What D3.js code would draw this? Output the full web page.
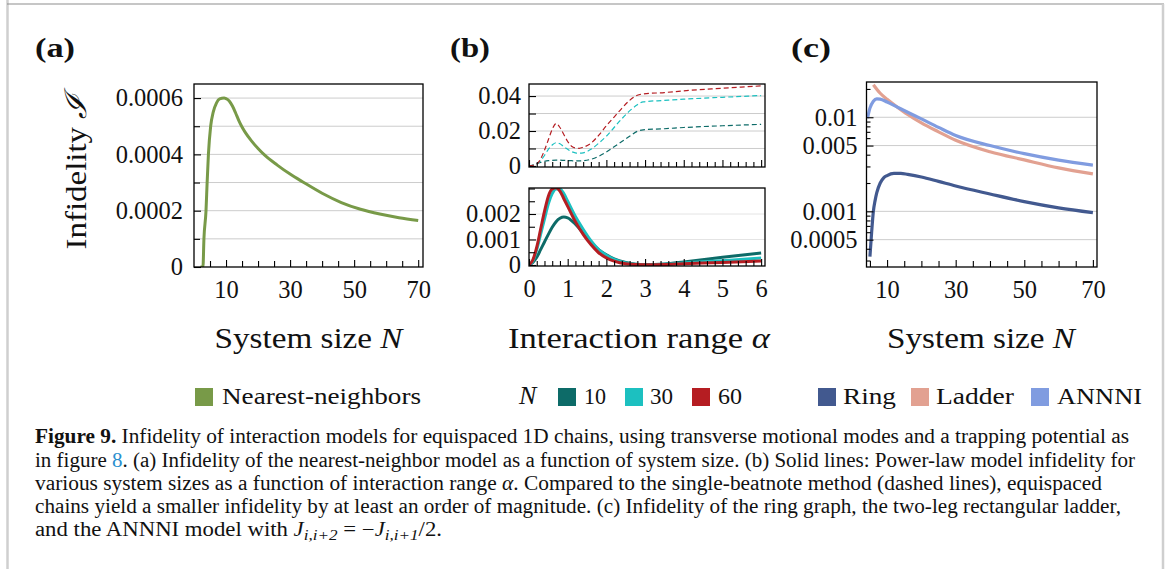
<!DOCTYPE html>
<html><head><meta charset="utf-8">
<script src="https://cdn.jsdelivr.net/npm/d3@7"></script>
<style>
body{margin:0;background:#fff}
svg{display:block}
text{font-family:"Liberation Serif","Times New Roman",serif;fill:#111}
</style>
</head><body>
<svg id="c" width="1167" height="569"></svg>
<script>
// ---------------- DATA ----------------
// Panel (a): nearest-neighbour infidelity vs system size N
const aN   = [2, 2.8, 3.1, 3.75, 4.1, 4.5, 5.2, 6, 7, 8, 9.4, 10, 11, 12, 13, 14, 15, 16, 18, 20, 22, 26, 30, 34, 40, 46, 52, 58, 64, 70];
const aInf = [0, 0, 0.0001, 0.0002, 0.0003, 0.0004, 0.0005, 0.00055, 0.000582, 0.000597, 0.0006, 0.000598, 0.00059, 0.000572, 0.000547, 0.00052, 0.000497, 0.000478, 0.000447, 0.000421, 0.000398, 0.000362, 0.00033, 0.000302, 0.000262, 0.000229, 0.000205, 0.000188, 0.000175, 0.000165];
const aYTicks  = [0, 0.0002, 0.0004, 0.0006];
const aYLabels = ["0", "0.0002", "0.0004", "0.0006"];
const aYMinor  = [0.0001, 0.0003, 0.0005];
const aXTicks  = [10, 30, 50, 70];
const aXMinor  = [5, 15, 20, 25, 35, 40, 45, 55, 60, 65];

// Panel (b) top: single-beatnote (dashed) infidelity vs alpha
const bAlphaD = [0, 0.1, 0.2, 0.3, 0.4, 0.5, 0.6, 0.7, 0.8, 0.9, 1.0, 1.1, 1.2, 1.3, 1.4, 1.6, 1.8, 2.0, 2.2, 2.4, 2.6, 2.8, 2.95, 3.5, 4, 5, 6];
const bDashN10 = [0, 0.0005, 0.0013, 0.002, 0.0026, 0.003, 0.0032, 0.0033, 0.0033, 0.0032, 0.0031, 0.003, 0.0029, 0.0029, 0.003, 0.0038, 0.0055, 0.008, 0.011, 0.014, 0.017, 0.0198, 0.0207, 0.0213, 0.022, 0.023, 0.0238];
const bDashN30 = [0, 0.0003, 0.001, 0.003, 0.006, 0.0095, 0.012, 0.0133, 0.0127, 0.011, 0.0095, 0.0082, 0.0075, 0.0073, 0.0075, 0.0095, 0.013, 0.017, 0.022, 0.027, 0.0315, 0.035, 0.0367, 0.0375, 0.0382, 0.0393, 0.0403];
const bDashN60 = [0, 0.0003, 0.001, 0.004, 0.009, 0.015, 0.021, 0.0243, 0.022, 0.018, 0.014, 0.0113, 0.0103, 0.0101, 0.0107, 0.013, 0.0175, 0.023, 0.028, 0.033, 0.0375, 0.0405, 0.0412, 0.042, 0.043, 0.0445, 0.0458];
const bTopYTicks  = [0, 0.02, 0.04];
const bTopYLabels = ["0", "0.02", "0.04"];
const bTopYMinor  = [0.01, 0.03];

// Panel (b) bottom: equispaced power-law (solid) infidelity vs alpha
const bAlphaS = [0, 0.1, 0.2, 0.3, 0.4, 0.5, 0.6, 0.7, 0.8, 0.9, 1.0, 1.2, 1.4, 1.6, 1.8, 2.0, 2.2, 2.5, 3, 3.5, 4, 5, 6];
const bSolN10 = [0, 0.0001, 0.0003, 0.0006, 0.0009, 0.0012, 0.00148, 0.0017, 0.00183, 0.00188, 0.00185, 0.0016, 0.00125, 0.0009, 0.0006, 0.0004, 0.00024, 0.0001, 0.00001, 0.00004, 0.00012, 0.0003, 0.00047];
const bSolN30 = [0, 0.00015, 0.0006, 0.0012, 0.0018, 0.0024, 0.0028, 0.00298, 0.00298, 0.0028, 0.0025, 0.0019, 0.0014, 0.00095, 0.0006, 0.00038, 0.00022, 0.00008, 0.00001, 0.00003, 0.00008, 0.00017, 0.00027];
const bSolN60 = [0, 0.0002, 0.0007, 0.0014, 0.0021, 0.0027, 0.00298, 0.00303, 0.0029, 0.0026, 0.0023, 0.0017, 0.0012, 0.0008, 0.00048, 0.00028, 0.00015, 0.00005, 0.00001, 0.00002, 0.00005, 0.0001, 0.00016];
const bBotYTicks  = [0, 0.001, 0.002];
const bBotYLabels = ["0", "0.001", "0.002"];
const bBotYMinor  = [0.0005, 0.0015, 0.0025, 0.003];
const bXTicks = [0, 1, 2, 3, 4, 5, 6];
const bXMinor = d3.range(0, 30).map(i => +(i * 0.2).toFixed(1)).filter(v => Math.abs(v - Math.round(v)) > 1e-9);
const bSizes = ["10", "30", "60"];

// Panel (c): ring / ladder / ANNNI infidelity vs N (log scale)
const cRingN  = [5, 5.5, 6, 6.5, 7, 8, 9, 10, 12, 14, 16, 20, 25, 30, 40, 50, 60, 70];
const cRing   = [0.00033, 0.0006, 0.001, 0.0013, 0.00158, 0.002, 0.00227, 0.0024, 0.00253, 0.00253, 0.00247, 0.00232, 0.00208, 0.00186, 0.00153, 0.00127, 0.00109, 0.00097];
const cLadN   = [6, 8, 10, 13, 16, 20, 25, 30, 40, 50, 60, 70];
const cLadder = [0.0222, 0.018, 0.0155, 0.0128, 0.0107, 0.0087, 0.007, 0.0057, 0.0043, 0.00352, 0.0029, 0.0025];
const cAnnN   = [4.3, 5, 6, 7, 8, 10, 13, 16, 20, 25, 30, 40, 50, 60, 70];
const cAnnni  = [0.0098, 0.0125, 0.0148, 0.0157, 0.0156, 0.0145, 0.0128, 0.0113, 0.0096, 0.0078, 0.0064, 0.005, 0.0041, 0.0035, 0.0031];
const cYTicks  = [0.0005, 0.001, 0.005, 0.01];
const cYLabels = ["0.0005", "0.001", "0.005", "0.01"];
const cYMinor  = [0.0003, 0.0004, 0.0006, 0.0007, 0.0008, 0.0009, 0.002, 0.003, 0.004, 0.006, 0.007, 0.008, 0.009, 0.02];
const cXTicks  = [10, 30, 50, 70];
const cXMinor  = [5, 15, 20, 25, 35, 40, 45, 55, 60, 65];

// Colours
const colGreen = "#789a48";
const colN = ["#0d6b68", "#1cc0c0", "#b51d22"];
const colRing = "#42598f", colLadder = "#e2a191", colAnnni = "#809ce0";

// ---------------- DRAW ----------------
const svg = d3.select("#c");

// page frame
svg.append("line").attr("x1", 7.5).attr("x2", 7.5).attr("y1", 0).attr("y2", 569).attr("stroke", "#cfcfcf").attr("stroke-width", 2.5);
svg.append("line").attr("x1", 7).attr("x2", 1164).attr("y1", 4).attr("y2", 4).attr("stroke", "#8e8e8e").attr("stroke-width", 1.2);
svg.append("line").attr("x1", 1163).attr("x2", 1163).attr("y1", 4).attr("y2", 569).attr("stroke", "#cfcfcf").attr("stroke-width", 2.5);

let clipId = 0;
function panel(o) {
  const [x0, x1, y0, y1] = o.box;
  const g = svg.append("g");
  // grid
  g.selectAll(null).data(o.grid).enter().append("line")
    .attr("x1", x0).attr("x2", x1)
    .attr("y1", d => o.y(d)).attr("y2", d => o.y(d))
    .attr("stroke", o.gridColor).attr("stroke-width", 1);
  // clip
  const id = "clip" + (clipId++);
  svg.append("clipPath").attr("id", id).append("rect")
    .attr("x", x0).attr("y", y0).attr("width", x1 - x0).attr("height", y1 - y0);
  const cg = g.append("g").attr("clip-path", `url(#${id})`);
  o.series.forEach(s => {
    const line = d3.line().x(d => o.x(d[0])).y(d => o.y(d[1])).curve(d3.curveMonotoneX);
    const pts = s.xs.map((v, i) => [v, s.ys[i]]);
    cg.append("path").attr("d", line(pts)).attr("fill", "none")
      .attr("stroke", s.color).attr("stroke-width", s.width)
      .attr("stroke-dasharray", s.dash || null)
      .attr("stroke-linejoin", "round").attr("stroke-linecap", "butt");
  });
  // y axis
  const ay = g.append("g").attr("transform", `translate(${x0},0)`)
    .call(d3.axisLeft(o.y).tickValues(o.yMinor).tickSizeInner(-(o.minorLen || 5)).tickSizeOuter(0).tickFormat(""));
  const ay2 = g.append("g").attr("transform", `translate(${x0},0)`)
    .call(d3.axisLeft(o.y).tickValues(o.yTicks).tickSizeInner(-7).tickSizeOuter(0).tickPadding(o.yPad)
      .tickFormat((d, i) => o.yLabels[i]));
  // x axis
  const ax = g.append("g").attr("transform", `translate(0,${y1})`)
    .call(d3.axisBottom(o.x).tickValues(o.xMinor).tickSizeInner(-(o.xMinorLen || 5)).tickSizeOuter(0).tickFormat(""));
  const ax2 = g.append("g").attr("transform", `translate(0,${y1})`)
    .call(d3.axisBottom(o.x).tickValues(o.xTicks).tickSizeInner(-7).tickSizeOuter(0).tickPadding(14)
      .tickFormat(o.xLabels ? (d => d) : ""));
  [ay, ay2, ax, ax2].forEach(a => {
    a.select(".domain").remove();
    a.selectAll(".tick line").attr("stroke", "#000").attr("stroke-width", 1.1);
    a.selectAll("text").attr("font-size", 24.5).attr("fill", "#111");
  });
  // box
  g.append("rect").attr("x", x0).attr("y", y0).attr("width", x1 - x0).attr("height", y1 - y0)
    .attr("fill", "none").attr("stroke", "#000").attr("stroke-width", 1.3);
}

// Panel (a)
const xa = d3.scaleLinear().domain([0, 71.5]).range([194, 423]);
const ya = d3.scaleLinear().domain([0, 0.00065]).range([267, 84]);
panel({
  box: [194, 423, 84, 267], x: xa, y: ya,
  grid: [0.0001, 0.0002, 0.0003, 0.0004, 0.0005, 0.0006], gridColor: "#cccccc",
  yTicks: aYTicks, yLabels: aYLabels, yMinor: aYMinor, minorLen: 6, yPad: 11,
  xTicks: aXTicks, xLabels: true, xMinor: aXMinor, xMinorLen: 6,
  series: [{ xs: aN, ys: aInf, color: colGreen, width: 3 }]
});

// Panel (b) top
const xb = d3.scaleLinear().domain([0, 6.1]).range([529, 765]);
const ybt = d3.scaleLinear().domain([-0.0006, 0.0469]).range([167, 84]);
panel({
  box: [529, 765, 84, 167], x: xb, y: ybt,
  grid: [0.01, 0.02, 0.03, 0.04], gridColor: "#cccccc",
  yTicks: bTopYTicks, yLabels: bTopYLabels, yMinor: bTopYMinor, minorLen: 7, yPad: 8,
  xTicks: bXTicks, xLabels: false, xMinor: bXMinor, xMinorLen: 5,
  series: [
    { xs: bAlphaD, ys: bDashN10, color: colN[0], width: 1.2, dash: "5,3" },
    { xs: bAlphaD, ys: bDashN30, color: colN[1], width: 1.2, dash: "5,3" },
    { xs: bAlphaD, ys: bDashN60, color: colN[2], width: 1.2, dash: "5,3" }
  ]
});

// Panel (b) bottom
const ybb = d3.scaleLinear().domain([-0.00004, 0.00302]).range([266, 188]);
panel({
  box: [529, 765, 188, 266], x: xb, y: ybb,
  grid: [0.001, 0.002], gridColor: "#e4e4e4",
  yTicks: bBotYTicks, yLabels: bBotYLabels, yMinor: bBotYMinor, minorLen: 6, yPad: 8,
  xTicks: bXTicks, xLabels: true, xMinor: bXMinor, xMinorLen: 5,
  series: [
    { xs: bAlphaS, ys: bSolN10, color: colN[0], width: 3 },
    { xs: bAlphaS, ys: bSolN30, color: colN[1], width: 3 },
    { xs: bAlphaS, ys: bSolN60, color: colN[2], width: 3 }
  ]
});

// Panel (c)
const xc = d3.scaleLinear().domain([4, 71.2]).range([866.5, 1097]);
const yc = d3.scaleLog().domain([0.000256, 0.0237]).range([267, 82]);
panel({
  box: [866.5, 1097, 82, 267], x: xc, y: yc,
  grid: [0.0005, 0.001, 0.005, 0.01], gridColor: "#cccccc",
  yTicks: cYTicks, yLabels: cYLabels, yMinor: cYMinor, minorLen: 4, yPad: 9,
  xTicks: cXTicks, xLabels: true, xMinor: cXMinor, xMinorLen: 6,
  series: [
    { xs: cRingN, ys: cRing, color: colRing, width: 3.2 },
    { xs: cLadN, ys: cLadder, color: colLadder, width: 3.2 },
    { xs: cAnnN, ys: cAnnni, color: colAnnni, width: 3.2 }
  ]
});

// Panel letters
[["(a)", 35], ["(b)", 450], ["(c)", 791]].forEach(([t, x]) => {
  svg.append("text").attr("x", x).attr("y", 57).attr("font-size", 28).attr("font-weight", "bold")
    .attr("textLength", 40).attr("lengthAdjust", "spacingAndGlyphs").text(t);
});

// Y axis title
const yt = svg.append("text").attr("transform", "translate(86,172) rotate(-90)")
  .attr("text-anchor", "middle").attr("font-size", 30)
  .attr("textLength", 155).attr("lengthAdjust", "spacingAndGlyphs");
yt.append("tspan").text("Infidelity ");
yt.append("tspan").attr("font-style", "italic").text("ℐ");

// X axis titles
function xTitle(cx, len, main, sym) {
  const t = svg.append("text").attr("x", cx).attr("y", 348).attr("text-anchor", "middle")
    .attr("font-size", 30).attr("textLength", len).attr("lengthAdjust", "spacingAndGlyphs");
  t.append("tspan").text(main);
  t.append("tspan").attr("font-style", "italic").text(sym);
}
xTitle(308.5, 188, "System size ", "N");
xTitle(639, 262, "Interaction range ", "α");
xTitle(981, 188, "System size ", "N");

// Legends
function legendItem(x, color, label, tx, tlen) {
  svg.append("rect").attr("x", x).attr("y", 388).attr("width", 18).attr("height", 18).attr("fill", color);
  svg.append("text").attr("x", tx).attr("y", 404).attr("font-size", 24)
    .attr("textLength", tlen).attr("lengthAdjust", "spacingAndGlyphs").text(label);
}
legendItem(195, colGreen, "Nearest-neighbors", 222, 199);
svg.append("text").attr("x", 519).attr("y", 404).attr("font-size", 26).attr("font-style", "italic").text("N");
legendItem(558, colN[0], bSizes[0], 584, 22);
legendItem(625, colN[1], bSizes[1], 650, 23);
legendItem(692, colN[2], bSizes[2], 718, 24);
legendItem(818, colRing, "Ring", 843, 53);
legendItem(911, colLadder, "Ladder", 936, 78);
legendItem(1031, colAnnni, "ANNNI", 1057, 85);

// Caption
function capLine(y, len) {
  const t = svg.append("text").attr("x", 35).attr("y", y).attr("font-size", 20);
  if (len) t.attr("textLength", len).attr("lengthAdjust", "spacingAndGlyphs");
  return t;
}
let c1 = capLine(443, 1094);
c1.append("tspan").attr("font-weight", "bold").text("Figure 9.");
c1.append("tspan").text(" Infidelity of interaction models for equispaced 1D chains, using transverse motional modes and a trapping potential as");
let c2 = capLine(466.5, 1100);
c2.append("tspan").text("in figure ");
c2.append("tspan").attr("fill", "#2a8fce").text("8");
c2.append("tspan").text(". (a) Infidelity of the nearest-neighbor model as a function of system size. (b) Solid lines: Power-law model infidelity for");
let c3 = capLine(489.5, 1067);
c3.append("tspan").text("various system sizes as a function of interaction range ");
c3.append("tspan").attr("font-style", "italic").text("α");
c3.append("tspan").text(". Compared to the single-beatnote method (dashed lines), equispaced");
let c4 = capLine(512.5, 1086);
c4.append("tspan").text("chains yield a smaller infidelity by at least an order of magnitude. (c) Infidelity of the ring graph, the two-leg rectangular ladder,");
let c5 = capLine(535.5, 407);
c5.append("tspan").text("and the ANNNI model with ");
c5.append("tspan").attr("font-style", "italic").text("J");
c5.append("tspan").attr("font-style", "italic").attr("font-size", 15).attr("dy", 4).text("i,i+2");
c5.append("tspan").attr("dy", -4).text(" = −");
c5.append("tspan").attr("font-style", "italic").text("J");
c5.append("tspan").attr("font-style", "italic").attr("font-size", 15).attr("dy", 4).text("i,i+1");
c5.append("tspan").attr("dy", -4).text("/2.");
</script>
</body></html>
